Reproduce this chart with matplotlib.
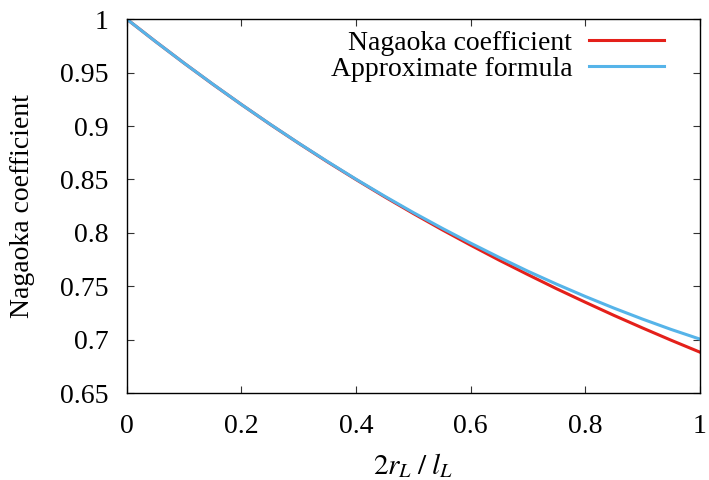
import matplotlib
matplotlib.use("Agg")
import matplotlib.pyplot as plt
from matplotlib.ticker import FuncFormatter

# data
ratio = [0.0, 0.05, 0.1, 0.15, 0.2, 0.25, 0.3, 0.35, 0.4, 0.45, 0.5,
         0.55, 0.6, 0.65, 0.7, 0.75, 0.8, 0.85, 0.9, 0.95, 1.0]
nagaoka = [1.0, 0.9791, 0.9588, 0.9391, 0.9201, 0.9016, 0.8838, 0.8665, 0.8499, 0.8337, 0.8181,
           0.8030, 0.7885, 0.7744, 0.7609, 0.7477, 0.7351, 0.7228, 0.7110, 0.6995, 0.6884]
approx = [1.0, 0.9791, 0.9588, 0.9392, 0.9201, 0.9017, 0.8839, 0.8668, 0.8502, 0.8343, 0.8190,
          0.8044, 0.7904, 0.7770, 0.7641, 0.7520, 0.7405, 0.7296, 0.7193, 0.7096, 0.7006]
xticks = [0, 0.2, 0.4, 0.6, 0.8, 1]
yticks = [0.65, 0.7, 0.75, 0.8, 0.85, 0.9, 0.95, 1]

plt.rcParams["font.family"] = ["Liberation Serif", "DejaVu Serif"]
plt.rcParams["mathtext.fontset"] = "stix"

fig = plt.figure(figsize=(7.09, 4.8), dpi=100)
ax = fig.add_axes([0.179, 0.181, 0.808, 0.779])

ax.plot(ratio, nagaoka, color="#e4201a", lw=2.2, label="Nagaoka coefficient")
ax.plot(ratio, approx, color="#56b4e9", lw=2.2, label="Approximate formula")

ax.set_xlim(0, 1)
ax.set_ylim(0.65, 1)
ax.set_xticks(xticks)
ax.set_yticks(yticks)
fmt = FuncFormatter(lambda v, p: "%g" % v)
ax.xaxis.set_major_formatter(fmt)
ax.yaxis.set_major_formatter(fmt)
ax.tick_params(direction="in", length=5, width=0.8, top=True, right=True,
               labelsize=20, color="#333333")
ax.tick_params(axis="y", pad=13)
ax.tick_params(axis="x", pad=15)
for s in ax.spines.values():
    s.set_linewidth(1.0)

ax.set_xlabel(r"$2r_L\;/\;l_L$", fontsize=21, labelpad=9)
ax.set_ylabel("Nagaoka coefficient", fontsize=20, labelpad=18)

leg = ax.legend(loc="upper right", frameon=False, markerfirst=False,
                fontsize=20, handlelength=2.7, handletextpad=0.6,
                labelspacing=0.03, borderaxespad=0.0, bbox_to_anchor=(0.957, 1.0))

fig.savefig("out.png", dpi=100)
